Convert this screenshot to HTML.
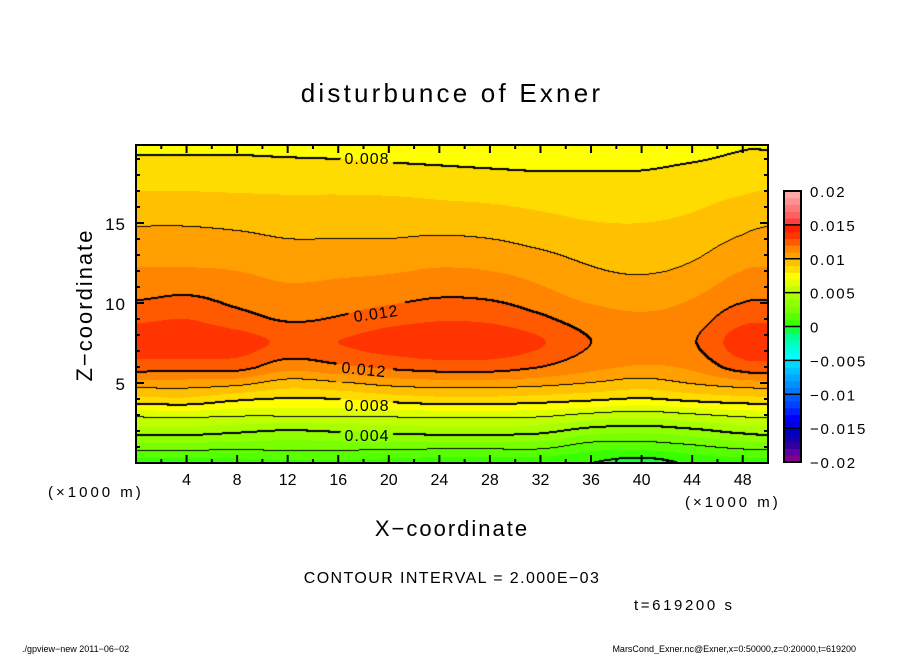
<!DOCTYPE html>
<html><head><meta charset="utf-8">
<style>
html,body{margin:0;padding:0;background:#fff;}
#wrap{position:relative;width:904px;height:654px;overflow:hidden;font-family:"Liberation Sans",sans-serif;}
#plot{position:absolute;left:136px;top:145px;}
svg{position:absolute;left:0;top:0;}
text{font-family:"Liberation Sans",sans-serif;fill:#000;}
</style></head>
<body>
<div id="wrap">
<canvas id="plot" width="632" height="318"></canvas>
<svg id="ov" width="904" height="654">
<text x="452" y="102" font-size="26" letter-spacing="3.2" text-anchor="middle">disturbunce of Exner</text>
<text transform="translate(92,305) rotate(-90)" font-size="22" letter-spacing="2" text-anchor="middle">Z−coordinate</text>
<text x="452" y="536" font-size="22" letter-spacing="2" text-anchor="middle">X−coordinate</text>
<text x="48" y="497" font-size="15" letter-spacing="3">(×1000 m)</text>
<text x="685" y="507" font-size="15" letter-spacing="3">(×1000 m)</text>
<text x="452" y="583" font-size="16" letter-spacing="1.4" text-anchor="middle">CONTOUR INTERVAL = 2.000E−03</text>
<text x="634" y="610" font-size="15" letter-spacing="2.6">t=619200 s</text>
<text x="22" y="652" font-size="9">./gpview−new  2011−06−02</text>
<text x="856" y="652" font-size="9" text-anchor="end">MarsCond_Exner.nc@Exner,x=0:50000,z=0:20000,t=619200</text>
<g id="axes"></g>
<g id="cbar"></g>
<g id="clabels"></g>
</svg>
</div>
<script>
// ---- data ----
const xNodes = [0,4,8,12,16,20,24,28,32,36,40,44,48,50];
const zNodes = [0,1,2,3,4,5,6,7.5,9,10.5,12,14,16,18,20];
const col00 = [0.0005,0.0025,0.0045,0.0063,0.0087,0.0106,0.0125,0.0137,0.0128,0.0118,0.0111,0.0103,0.0095,0.0085,0.0078];
const col04 = [0.0005,0.0025,0.0045,0.0064,0.0088,0.0106,0.0124,0.0138,0.0130,0.0120,0.0111,0.0103,0.0095,0.0085,0.0078];
const col08 = [0.0006,0.0024,0.0042,0.0062,0.0082,0.0104,0.0124,0.0135,0.0124,0.0116,0.0110,0.0102,0.0094,0.0085,0.0078];
const col12 = [0.0008,0.0024,0.0039,0.0062,0.0079,0.0096,0.0114,0.0128,0.0119,0.0113,0.0107,0.0100,0.0093,0.0085,0.0077];
const col16 = [0.0008,0.0024,0.0041,0.0062,0.0080,0.0099,0.0118,0.0130,0.0121,0.0114,0.0108,0.0100,0.0093,0.0085,0.0076];
const col20 = [0.0006,0.0024,0.0043,0.0063,0.0084,0.0104,0.0122,0.0135,0.0126,0.0116,0.0109,0.0100,0.0093,0.0084,0.0075];
const col24 = [0.0005,0.0023,0.0045,0.0064,0.0087,0.0106,0.0125,0.0138,0.0129,0.0119,0.0111,0.0101,0.0092,0.0083,0.0074];
const col28 = [0.0005,0.0023,0.0045,0.0064,0.0087,0.0106,0.0125,0.0137,0.0128,0.0118,0.0110,0.0100,0.0091,0.0082,0.0073];
const col32 = [0.0004,0.0023,0.0043,0.0063,0.0085,0.0104,0.0120,0.0131,0.0122,0.0113,0.0106,0.0097,0.0089,0.0081,0.0073];
const col36 = [0.0000,0.0015,0.0035,0.0058,0.0082,0.0100,0.0113,0.0120,0.0115,0.0107,0.0101,0.0094,0.0087,0.0081,0.0073];
const col40 = [-0.0005,0.0014,0.0033,0.0055,0.0079,0.0096,0.0109,0.0117,0.0112,0.0105,0.0099,0.0093,0.0087,0.0081,0.0074];
const col44 = [0.0002,0.0018,0.0037,0.0059,0.0083,0.0101,0.0112,0.0119,0.0115,0.0109,0.0102,0.0095,0.0089,0.0083,0.0076];
const col48 = [0.0005,0.0023,0.0043,0.0063,0.0086,0.0106,0.0125,0.0136,0.0127,0.0117,0.0110,0.0101,0.0093,0.0085,0.0079];
const col50 = [0.0005,0.0024,0.0045,0.0064,0.0087,0.0107,0.0126,0.0137,0.0128,0.0118,0.0111,0.0103,0.0095,0.0086,0.0079];
const columns = [col00,col04,col08,col12,col16,col20,col24,col28,col32,col36,col40,col44,col48,col50];
const xTicks = ["4","8","12","16","20","24","28","32","36","40","44","48"];
const yTicks = ["5","10","15"];
const cbarLabels = ["0.02","0.015","0.01","0.005","0","−0.005","−0.01","−0.015","−0.02"];
const palette = ["#800090","#6000a0","#3000a0","#1000b0","#0000c0","#0000e0","#0000ff","#0020ff","#0040ff","#0058ff",
"#0078ff","#0090ff","#00a8ff","#00c0ff","#00d8ff","#00ffff","#00ffe0","#00ffc0","#00ff90","#10ff40",
"#38ff00","#58ff00","#78ff00","#90ff00","#a8ff00","#c0ff00","#e0ff00","#ffff00","#ffdc00","#ffc000",
"#ffa000","#ff8400","#ff5a00","#ff3400","#ff2000","#ff4040","#ff6060","#ff7878","#ff9090","#ffa8a8"];

// ---- geometry ----
const PX0=136, PY0=145, PW=632, PH=318, XMAX=50, ZMAX=19.875;
const xs = v => PX0 + v/XMAX*PW;
const zs = v => PY0 + PH - v/ZMAX*PH;

function seg(nodes,v){let i=0;while(i<nodes.length-2&&v>nodes[i+1])i++;const t=(v-nodes[i])/(nodes[i+1]-nodes[i]);return [i,Math.max(0,Math.min(1,t))];}
function cr(p0,p1,p2,p3,t){
  const t2=t*t,t3=t2*t;
  let v=0.5*((2*p1)+(-p0+p2)*t+(2*p0-5*p1+4*p2-p3)*t2+(-p0+3*p1-3*p2+p3)*t3);
  const lo=Math.min(p1,p2),hi=Math.max(p1,p2),pad=(hi-lo)*0.5+0.0003;
  return Math.max(lo-pad,Math.min(hi+pad,v));
}
function colAt(c,j,tz){
  const n=zNodes.length;
  const g=k=>columns[c][Math.max(0,Math.min(n-1,k))];
  return cr(g(j-1),g(j),g(j+1),g(j+2),tz);
}
function field(x,z){
  const [i,tx]=seg(xNodes,x), [j,tz]=seg(zNodes,z);
  const m=columns.length;
  const C=k=>colAt(Math.max(0,Math.min(m-1,k)),j,tz);
  return cr(C(i-1),C(i),C(i+1),C(i+2),tx);
}
function hex(c){return [parseInt(c.substr(1,2),16),parseInt(c.substr(3,2),16),parseInt(c.substr(5,2),16)];}
const pal = palette.map(hex);

// ---- render field ----
const cv=document.getElementById('plot'), ctx=cv.getContext('2d');
const img=ctx.createImageData(PW,PH);
const V=new Float32Array(PW*PH);
for(let py=0;py<PH;py++)for(let px=0;px<PW;px++){
  V[py*PW+px]=field((px+0.5)/PW*XMAX, (PH-py-0.5)/PH*ZMAX);
}
const labelBoxes=[[204,3,256,21],[212,155,268,178],[200,213,256,236],[204,250,256,268],[204,280,256,298]];
function inLabel(px,py){return labelBoxes.some(b=>px>=b[0]&&px<=b[2]&&py>=b[1]&&py<=b[3]);}
const line=new Uint8Array(PW*PH);
for(let py=0;py<PH;py++)for(let px=0;px<PW;px++){
  const k=py*PW+px, v=V[k];
  let bi=Math.floor((v+0.02)/0.001); bi=Math.max(0,Math.min(39,bi));
  const c=pal[bi]; img.data[k*4]=c[0];img.data[k*4+1]=c[1];img.data[k*4+2]=c[2];img.data[k*4+3]=255;
  const l=Math.floor(v/0.002+1e-9);
  const nb=[px+1<PW?V[k+1]:v, py+1<PH?V[k+PW]:v];
  for(const w of nb){const l2=Math.floor(w/0.002+1e-9);
    if(l2!==l && !inLabel(px,py)){const lev=Math.max(l,l2); line[k]=Math.max(line[k], (lev%2===0)?2:1);}}
}
for(let py=0;py<PH;py++)for(let px=0;px<PW;px++){
  const k=py*PW+px; if(!line[k])continue;
  const pts=[[px,py]]; if(line[k]===2){pts.push([px,py+1]);pts.push([px+1,py]);}
  for(const [qx,qy] of pts){if(qx<PW&&qy<PH){const q=(qy*PW+qx)*4;img.data[q]=0;img.data[q+1]=0;img.data[q+2]=0;}}
}
ctx.putImageData(img,0,0);

// ---- axes ----
const NS='http://www.w3.org/2000/svg';
function mk(tag,attrs,parent){const e=document.createElementNS(NS,tag);for(const k in attrs)e.setAttribute(k,attrs[k]);parent.appendChild(e);return e;}
const ax=document.getElementById('axes');
let fr=mk('rect',{x:PX0,y:PY0,width:PW,height:PH,fill:'none',stroke:'#000','stroke-width':2},ax);


for(let v=2;v<XMAX;v+=2){
  const major=v%4===0, L=major?8:4, X=xs(v);
  let t1=mk('line',{x1:X,x2:X,y1:PY0+PH,y2:PY0+PH-L,stroke:'#000','stroke-width':2},ax);
  
  
  let t2=mk('line',{x1:X,x2:X,y1:PY0,y2:PY0+L,stroke:'#000','stroke-width':2},ax);
  
  
}
xTicks.forEach(s=>{
  let t=mk('text',{x:xs(+s),y:485,'font-size':16,'text-anchor':'middle'},ax); t.textContent=s;
  
  
});
for(let v=1;v<ZMAX;v+=1){
  const major=v%5===0, L=major?8:4, Y=zs(v);
  let t1=mk('line',{x1:PX0,x2:PX0+L,y1:Y,y2:Y,stroke:'#000','stroke-width':2},ax);
  
  
  let t2=mk('line',{x1:PX0+PW,x2:PX0+PW-L,y1:Y,y2:Y,stroke:'#000','stroke-width':2},ax);
  
  
}
yTicks.forEach(s=>{
  let t=mk('text',{x:126,y:zs(+s)+7,'font-size':17,'letter-spacing':1,'text-anchor':'end'},ax); t.textContent=s;
  
  
});

// ---- contour labels ----
const cl=document.getElementById('clabels');
const clab=[["0.008",367,164,0],["0.012",376,319,-8],["0.012",364,375,6],["0.008",367,411,0],["0.004",367,441,0]];
clab.forEach(a=>{
  let t=mk('text',{x:a[1],y:a[2],'font-size':16,'letter-spacing':1,'text-anchor':'middle',transform:`rotate(${a[3]},${a[1]},${a[2]-6})`},cl); t.textContent=a[0];
  
  
});

// ---- colorbar ----
const cb=document.getElementById('cbar');
const CBX=784, CBW=17, CBT=191, CBB=462, bh=(CBB-CBT)/40;
for(let i=0;i<40;i++){
  let r=mk('rect',{x:CBX,y:CBB-(i+1)*bh,width:CBW,height:bh+0.5,fill:palette[i]},cb);
  
  
}
for(let i=0;i<=8;i++){
  let l=mk('line',{x1:CBX,x2:CBX+CBW,y1:CBT+i*5*bh,y2:CBT+i*5*bh,stroke:'#000','stroke-width':1.5},cb);
  
  
}
let cbf=mk('rect',{x:CBX,y:CBT,width:CBW,height:CBB-CBT,fill:'none',stroke:'#000','stroke-width':2},cb);


cbarLabels.forEach((s,i)=>{
  let t=mk('text',{x:810,y:CBT+i*5*bh+6,'font-size':15,'letter-spacing':1.8},cb); t.textContent=s;
  
  
});
</script>
</body></html>
